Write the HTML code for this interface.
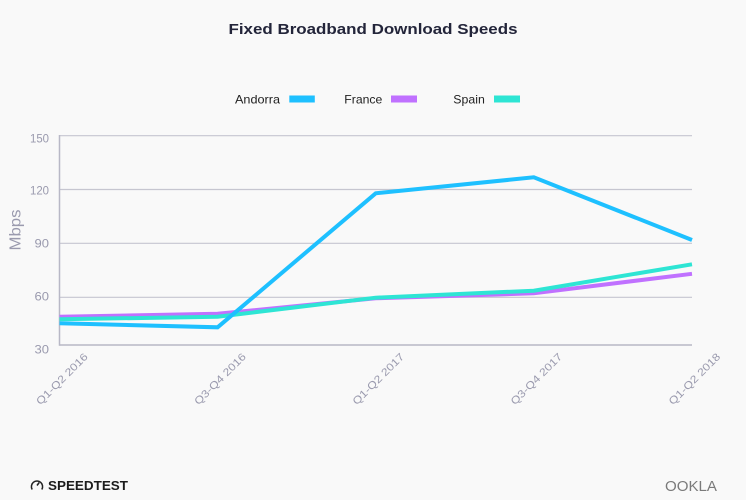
<!DOCTYPE html>
<html>
<head>
<meta charset="utf-8">
<style>
html,body{margin:0;padding:0;background:#f9f9f9;}
svg{display:block;}
</style>
</head>
<body>
<svg width="746" height="500" viewBox="0 0 746 500" xmlns="http://www.w3.org/2000/svg">
<rect x="0" y="0" width="746" height="500" fill="#f9f9f9"/>
<text x="373" y="34" text-anchor="middle" font-family="Liberation Sans, sans-serif" font-size="15" font-weight="bold" fill="#23253a" textLength="289" lengthAdjust="spacingAndGlyphs">Fixed Broadband Download Speeds</text>

<!-- legend -->
<g font-family="Liberation Sans, sans-serif" font-size="12" fill="#222">
<text x="235" y="103.5" textLength="45" lengthAdjust="spacingAndGlyphs">Andorra</text>
<rect x="289.3" y="95.5" width="25.5" height="7" fill="#1ec0ff"/>
<text x="344.3" y="103.5" textLength="38" lengthAdjust="spacingAndGlyphs">France</text>
<rect x="391" y="95.5" width="26" height="7" fill="#c071ff"/>
<text x="453.3" y="103.5" textLength="31.5" lengthAdjust="spacingAndGlyphs">Spain</text>
<rect x="494" y="95.5" width="26" height="7" fill="#2ee5d4"/>
</g>

<!-- grid -->
<g stroke="#c6c6d0" stroke-width="1.2">
<line x1="59.5" y1="135.7" x2="692" y2="135.7"/>
<line x1="59.5" y1="189.5" x2="692" y2="189.5"/>
<line x1="59.5" y1="243.3" x2="692" y2="243.3"/>
<line x1="59.5" y1="297.3" x2="692" y2="297.3"/>
</g>
<line x1="59.5" y1="345" x2="692" y2="345" stroke="#b8b8c6" stroke-width="1.5"/>
<line x1="59.5" y1="135" x2="59.5" y2="345.7" stroke="#b8b8c6" stroke-width="1.5"/>

<!-- y labels -->
<g font-family="Liberation Sans, sans-serif" font-size="12" fill="#9a9aae" text-anchor="end">
<text x="49" y="142.5" textLength="19" lengthAdjust="spacingAndGlyphs">150</text>
<text x="49" y="194.5" textLength="19" lengthAdjust="spacingAndGlyphs">120</text>
<text x="49" y="247.5" textLength="14.5" lengthAdjust="spacingAndGlyphs">90</text>
<text x="49" y="300.5" textLength="14.5" lengthAdjust="spacingAndGlyphs">60</text>
<text x="49" y="353.5" textLength="14.5" lengthAdjust="spacingAndGlyphs">30</text>
</g>
<text transform="translate(20.5,230) rotate(-90)" text-anchor="middle" font-family="Liberation Sans, sans-serif" font-size="16" fill="#9a9aae" textLength="41" lengthAdjust="spacingAndGlyphs">Mbps</text>

<!-- x labels -->
<g font-family="Liberation Sans, sans-serif" font-size="10.5" fill="#9a9aae" text-anchor="middle">
<text transform="translate(62,379) rotate(-45)" dy="3.5" textLength="68" lengthAdjust="spacingAndGlyphs">Q1-Q2 2016</text>
<text transform="translate(220.1,379) rotate(-45)" dy="3.5" textLength="68" lengthAdjust="spacingAndGlyphs">Q3-Q4 2016</text>
<text transform="translate(378.3,379) rotate(-45)" dy="3.5" textLength="68" lengthAdjust="spacingAndGlyphs">Q1-Q2 2017</text>
<text transform="translate(536.4,379) rotate(-45)" dy="3.5" textLength="68" lengthAdjust="spacingAndGlyphs">Q3-Q4 2017</text>
<text transform="translate(694.5,379) rotate(-45)" dy="3.5" textLength="68" lengthAdjust="spacingAndGlyphs">Q1-Q2 2018</text>
</g>

<!-- series -->
<g fill="none" stroke-width="4" stroke-linejoin="miter">
<polyline stroke="#c071ff" points="59.5,316.7 217.6,313.8 375.7,298.3 533.8,293.3 692,273.8"/>
<polyline stroke="#2ee5d4" points="59.5,319.3 217.6,316.7 375.7,297.7 533.8,290.7 692,264.3"/>
<polyline stroke="#1ec0ff" points="59.5,323.3 217.6,327.3 375.7,193.3 533.8,177.3 692,240"/>
</g>

<!-- footer logos -->
<g>
<path d="M32.2,489.5 A5.6,5.6 0 1 1 41.8,489.5" fill="none" stroke="#222" stroke-width="1.5"/>
<line x1="37" y1="485.5" x2="39.2" y2="482.5" stroke="#222" stroke-width="1.5"/>
<text x="48" y="490" font-family="Liberation Sans, sans-serif" font-size="12.5" font-weight="bold" fill="#1c1c1c" textLength="80" lengthAdjust="spacingAndGlyphs">SPEEDTEST</text>
</g>
<text x="665" y="491" font-family="Liberation Sans, sans-serif" font-size="15" fill="#7a7a7a" textLength="52" lengthAdjust="spacingAndGlyphs">OOKLA</text>
</svg>
</body>
</html>
